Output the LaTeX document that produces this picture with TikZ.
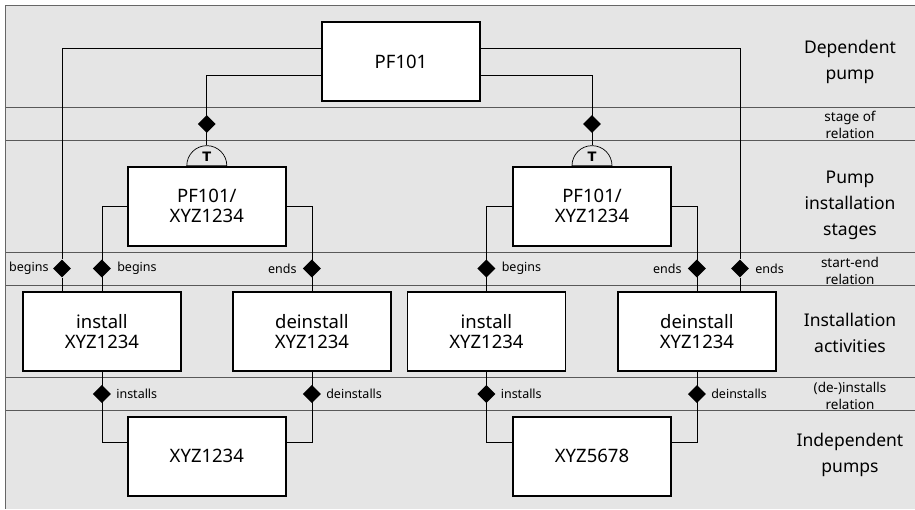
\documentclass[tikz,border=0pt]{standalone}
\usepackage{fontspec}
\setmainfont{Noto Sans}
\newfontfamily\capfont{DejaVu Sans}
\usetikzlibrary{positioning,shapes.geometric}

\tikzset{
  box/.style={draw=black, fill=white, line width=1.6pt, minimum width=158pt,
    minimum height=79pt, align=center, font=\fontsize{18.5}{20}\selectfont},
  rel/.style={diamond, fill=black, inner sep=0pt, minimum width=18pt, minimum height=18pt},
  wire/.style={draw=black, line width=0.7pt},
  band/.style={draw=black!65, line width=1pt},
  lvl/.style={align=center, font=\fontsize{17.5}{26}\selectfont},
  lvlsmall/.style={align=center, font=\fontsize{13.5}{17}\selectfont},
  tag/.style={font=\fontsize{12.5}{14}\selectfont, inner sep=2pt},
  stagecap/.style={semicircle, draw=black, line width=0.7pt, minimum width=40pt,
    minimum height=20pt, inner sep=0pt, font=\capfont\bfseries\fontsize{13}{13}\selectfont}
}

\begin{document}
\begin{tikzpicture}[x=1pt,y=-1pt]

    % Background
    \useasboundingbox (0,0) rectangle (915,509);
    \fill[gray!20] (5.7,5.7) rectangle (915,509);
    \draw[black!60, line width=1pt] (915,5.7) -- (5.7,5.7) -- (5.7,509);

    % Bands
    \foreach \y in {107.7,140.7,252.7,285,377,410.3}
        \draw[band] (5.7,\y) -- (915,\y);

    % Pumps and stages
    \node[box] (pf)   at (401,61.5)    {PF101};
    \node[box] (stA)  at (206.8,206.3) {PF101/\\XYZ1234};
    \node[box] (stB)  at (592,206.3)   {PF101/\\XYZ1234};
    \node[box] (actA) at (101.9,331.3) {install\\XYZ1234};
    \node[box] (actB) at (311.9,331.3) {deinstall\\XYZ1234};
    \node[box] (actC) at (486.4,331.3) {install\\XYZ1234};
    \node[box] (actD) at (696.9,331.3) {deinstall\\XYZ1234};
    \node[box] (indA) at (206.8,456.3) {XYZ1234};
    \node[box] (indB) at (592,456.3)   {XYZ5678};

    % Stage caps
    \node[stagecap, anchor=chord center] (capA) at (stA.north) {T};
    \node[stagecap, anchor=chord center] (capB) at (stB.north) {T};

    % Relations
    \node[rel] (sA) at (206.8,124) {};
    \node[rel] (sB) at (592,124) {};
    \node[rel, label={[tag, label distance=2pt]left:begins}]  (bO) at (62,268.5) {};
    \node[rel, label={[tag, label distance=4pt]right:begins}] (bA) at (101.9,268.5) {};
    \node[rel, label={[tag, label distance=4pt]left:ends}]    (eA) at (311.9,268.5) {};
    \node[rel, label={[tag, label distance=4pt]right:begins}] (bB) at (486.4,268.5) {};
    \node[rel, label={[tag, label distance=4pt]left:ends}]    (eB) at (696.9,268.5) {};
    \node[rel, label={[tag, label distance=4pt]right:ends}]   (eO) at (740,268.5) {};
    \node[rel, label={[tag, label distance=3pt]right:installs}]   (iA) at (101.9,394) {};
    \node[rel, label={[tag, label distance=3pt]right:deinstalls}] (dA) at (311.9,394) {};
    \node[rel, label={[tag, label distance=3pt]right:installs}]   (iB) at (486.4,394) {};
    \node[rel, label={[tag, label distance=3pt]right:deinstalls}] (dB) at (696.9,394) {};

    % Connectors
    \draw[wire] ([yshift=-13.5pt]pf.west) -| (capA.apex);
    \draw[wire] ([yshift=-13.5pt]pf.east) -| (capB.apex);
    \draw[wire] ([yshift=13pt]pf.west) -| (bO) -- (bO |- actA.north);
    \draw[wire] ([yshift=13pt]pf.east) -| (eO) -- (eO |- actD.north);
    \draw[wire] (stA.west) -| (actA.north);
    \draw[wire] (stA.east) -| (actB.north);
    \draw[wire] (stB.west) -| (actC.north);
    \draw[wire] (stB.east) -| (actD.north);
    \draw[wire] (actA.south) |- ([yshift=14pt]indA.west);
    \draw[wire] (actB.south) |- ([yshift=14pt]indA.east);
    \draw[wire] (actC.south) |- ([yshift=14pt]indB.west);
    \draw[wire] (actD.south) |- ([yshift=14pt]indB.east);

    % Level names
    \node[lvl]      (lDep)   at (850,61.5) {Dependent\\pump};
    \node[lvlsmall] (lStage) at (850,125)  {stage of\\relation};
    \node[lvl]      (lPis)   at (850,205)  {Pump\\installation\\stages};
    \node[lvlsmall] (lSe)    at (850,271)  {start-end\\relation};
    \node[lvl]      (lAct)   at (850,333)  {Installation\\activities};
    \node[lvlsmall] (lDi)    at (850,396)  {(de-)installs\\relation};
    \node[lvl]      (lInd)   at (850,455)  {Independent\\pumps};

\end{tikzpicture}
\end{document}
